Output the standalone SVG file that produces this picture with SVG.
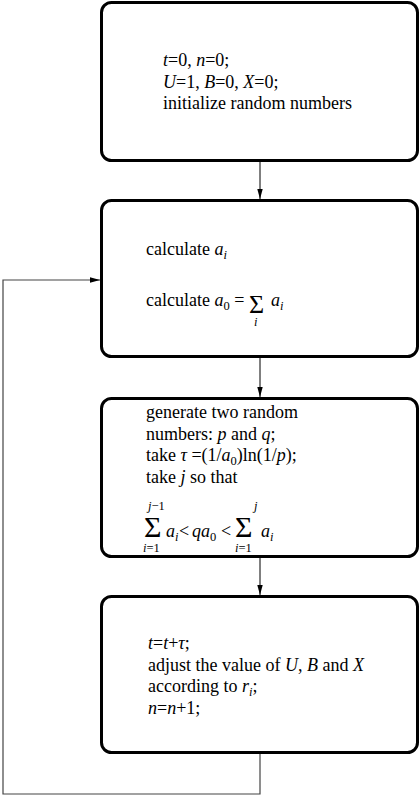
<svg xmlns="http://www.w3.org/2000/svg" width="420" height="796" viewBox="0 0 420 796">
<style>
.box{fill:#fff;stroke:#000;stroke-width:3}
.t{font-family:"Liberation Serif","Times New Roman",serif;font-size:18px;fill:#000}
.i{font-style:italic}
.s{font-size:12.5px}
.sg2{font-size:26px}
.sg3{font-size:30px}
.c{fill:none;stroke:#000;stroke-width:1}
.fb{fill:none;stroke:#444;stroke-width:1.2}
</style>
<defs>
<marker id="ah" markerWidth="10" markerHeight="6" refX="10" refY="3" orient="auto" markerUnits="userSpaceOnUse" viewBox="0 0 10 6">
<path d="M0,0.3 L10,3 L0,5.7 Z" fill="#000"/>
</marker>
</defs>
<rect width="420" height="796" fill="#fff"/>
<g id="connectors">
<line class="c" x1="260" y1="161" x2="260" y2="199" marker-end="url(#ah)"/>
<line class="c" x1="260" y1="357" x2="260" y2="397" marker-end="url(#ah)"/>
<line class="c" x1="260" y1="557" x2="260" y2="595" marker-end="url(#ah)"/>
<polyline class="fb" points="260,753 260,794 3,794 3,280 100,280" marker-end="url(#ah)"/>
</g>
<g id="init">
<rect class="box" x="101.5" y="2.5" width="316" height="158" rx="10"/>
<text class="t" x="163" y="66"><tspan class="i">t</tspan>=0, <tspan class="i">n</tspan>=0;</text>
<text class="t" x="163" y="87.5"><tspan class="i">U</tspan>=1, <tspan class="i">B</tspan>=0, <tspan class="i">X</tspan>=0;</text>
<text class="t" x="163" y="109">initialize random numbers</text>
</g>
<g id="calc">
<rect class="box" x="101.5" y="200.5" width="316" height="156" rx="10"/>
<text class="t" x="146" y="255">calculate <tspan class="i">a</tspan><tspan class="i s" dy="4">i</tspan></text>
<text class="t" x="146" y="306">calculate <tspan class="i">a</tspan><tspan class="s" dy="4">0</tspan><tspan dy="-4"> =</tspan></text>
<text class="t sg2" x="249" y="313">Σ</text>
<text class="t i s" x="254" y="326">i</text>
<text class="t" x="271" y="306"><tspan class="i">a</tspan><tspan class="i s" dy="4">i</tspan></text>
</g>
<g id="gen">
<rect class="box" x="101.5" y="398.5" width="316" height="158" rx="10"/>
<text class="t" x="146" y="418">generate two random</text>
<text class="t" x="146" y="439.5">numbers: <tspan class="i">p</tspan> and <tspan class="i">q</tspan>;</text>
<text class="t" x="146" y="461">take <tspan class="i">τ</tspan> =(1/<tspan class="i">a</tspan><tspan class="s" dy="4">0</tspan><tspan dy="-4">)ln(1/</tspan><tspan class="i">p</tspan>);</text>
<text class="t" x="146" y="482.5">take <tspan class="i">j</tspan> so that</text>
<text class="t s" x="148" y="510"><tspan class="i">j</tspan>−1</text>
<text class="t sg3" x="144" y="537">Σ</text>
<text class="t s" x="143" y="552"><tspan class="i">i</tspan>=1</text>
<text class="t" x="166" y="537"><tspan class="i">a</tspan><tspan class="i s" dy="4">i</tspan></text>
<text class="t" x="179" y="537">&lt;</text>
<text class="t" x="192" y="537"><tspan class="i">qa</tspan><tspan class="s" dy="4">0</tspan></text>
<text class="t" x="221" y="537">&lt;</text>
<text class="t sg3" x="235" y="537">Σ</text>
<text class="t s i" x="254" y="510">j</text>
<text class="t s" x="235" y="552"><tspan class="i">i</tspan>=1</text>
<text class="t" x="261" y="537"><tspan class="i">a</tspan><tspan class="i s" dy="4">i</tspan></text>
</g>
<g id="update">
<rect class="box" x="101.5" y="596.5" width="316" height="156" rx="10"/>
<text class="t" x="148" y="649"><tspan class="i">t</tspan>=<tspan class="i">t</tspan>+<tspan class="i">τ</tspan>;</text>
<text class="t" x="148" y="670.5">adjust the value of <tspan class="i">U</tspan>, <tspan class="i">B</tspan> and <tspan class="i">X</tspan></text>
<text class="t" x="148" y="692">according to <tspan class="i">r</tspan><tspan class="i s" dy="4">i</tspan><tspan dy="-4">;</tspan></text>
<text class="t" x="148" y="713.5"><tspan class="i">n</tspan>=<tspan class="i">n</tspan>+1;</text>
</g>
</svg>
